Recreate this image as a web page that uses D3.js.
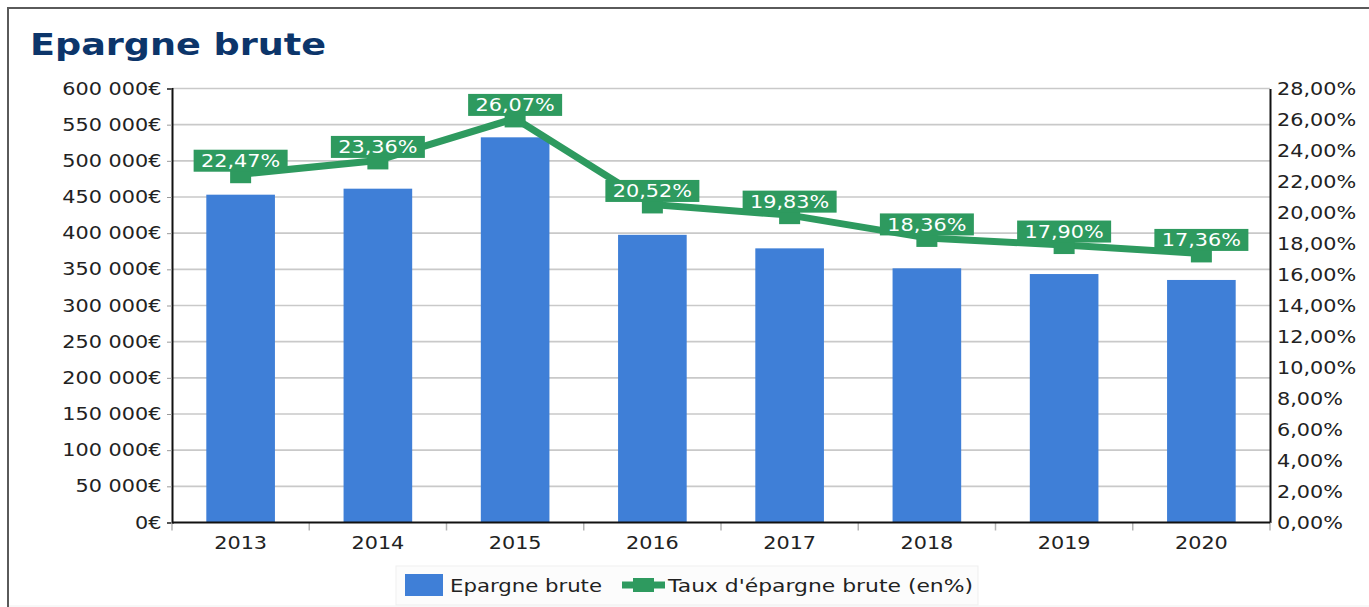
<!DOCTYPE html>
<html>
<head>
<meta charset="utf-8">
<script src="https://cdn.jsdelivr.net/npm/d3@7"></script>
<style>
  body { margin: 0; background: #fff; }
  svg text { font-family: "DejaVu Sans", Verdana, sans-serif; }
</style>
</head>
<body>
<svg id="chart" width="1369" height="607"></svg>
<script>
// Gross savings (€) and gross savings rate (%) per year
const years = ["2013", "2014", "2015", "2016", "2017", "2018", "2019", "2020"];
const epargneBrute = [453200, 461500, 532500, 397700, 379000, 351400, 343500, 335300];
const tauxEpargne = [22.47, 23.36, 26.07, 20.52, 19.83, 18.36, 17.90, 17.36];
const euroTicks = d3.range(0, 600001, 50000);
const pctTicks = d3.range(0, 29, 2);
const legendLabels = ["Epargne brute", "Taux d'épargne brute (en%)"];

const BLUE = "#3f7fd7";
const GREEN = "#2e9a5f";
const SX = 1.18; // horizontal text stretch

const svg = d3.select("#chart");
const plot = { left: 172, right: 1270, top: 88.5, bottom: 522.5 };

const fmtEuro = d => (d === 0 ? "0" : d3.format(",")(d).replace(/,/g, " ")) + "€";
const fmtPct = d => d.toFixed(2).replace(".", ",") + "%";

const x = d3.scaleBand().domain(years).range([plot.left, plot.right])
  .paddingInner(0.5).paddingOuter(0.25);
const xEdges = d3.scaleBand().domain(years).range([plot.left, plot.right]);
const yL = d3.scaleLinear().domain([0, 600000]).range([plot.bottom, plot.top]);
const yR = d3.scaleLinear().domain([0, 28]).range([plot.bottom, plot.top]);

// outer frame (top and left edges)
svg.append("path").attr("d", "M8,612 V8 H1375")
  .attr("fill", "none").attr("stroke", "#5a5a5a").attr("stroke-width", 2);
svg.append("line").attr("x1", 9).attr("x2", 1369).attr("y1", 606).attr("y2", 606)
  .attr("stroke", "#f0f0f0").attr("stroke-width", 1);

// title
svg.append("text")
  .attr("transform", `translate(30,55) scale(${SX},1)`)
  .attr("font-size", 31).attr("font-weight", "bold").attr("fill", "#0c356a")
  .text("Epargne brute");

// gridlines
svg.append("g").selectAll("line").data(euroTicks.slice(1)).join("line")
  .attr("x1", plot.left).attr("x2", plot.right)
  .attr("y1", d => yL(d)).attr("y2", d => yL(d))
  .attr("stroke", "#c9c9c9").attr("stroke-width", 1.6);

// bars
svg.append("g").selectAll("rect").data(years).join("rect")
  .attr("x", d => x(d)).attr("width", x.bandwidth())
  .attr("y", (d, i) => yL(epargneBrute[i]))
  .attr("height", (d, i) => yL(0) - yL(epargneBrute[i]))
  .attr("fill", BLUE);

// left axis
const gL = svg.append("g").attr("transform", `translate(${plot.left},0)`)
  .call(d3.axisLeft(yL).tickValues(euroTicks).tickFormat(fmtEuro).tickSize(5).tickPadding(4));
gL.select(".domain").attr("stroke", "#111").attr("stroke-width", 2);
gL.selectAll(".tick line").attr("stroke", "#999");
gL.selectAll(".tick text").attr("font-size", 17.6).attr("fill", "#222")
  .attr("transform", `scale(${SX},1)`);

// right axis
const gR = svg.append("g").attr("transform", `translate(${plot.right},0)`)
  .call(d3.axisRight(yR).tickValues(pctTicks).tickFormat(fmtPct).tickSize(0).tickPadding(6));
gR.select(".domain").attr("stroke", "#111").attr("stroke-width", 2);
gR.selectAll(".tick text").attr("font-size", 17.6).attr("fill", "#222")
  .attr("transform", `scale(${SX},1)`);

// bottom axis
const gB = svg.append("g").attr("transform", `translate(0,${plot.bottom})`)
  .call(d3.axisBottom(x).tickSize(0).tickPadding(14));
gB.select(".domain").remove();
gB.selectAll(".tick text").attr("font-size", 17.6).attr("fill", "#222")
  .attr("transform", `scale(${SX},1)`);
svg.append("g").selectAll("line").data(years.concat(["end"])).join("line")
  .attr("x1", (d, i) => i < years.length ? xEdges(d) : plot.right)
  .attr("x2", (d, i) => i < years.length ? xEdges(d) : plot.right)
  .attr("y1", plot.bottom).attr("y2", plot.bottom + 8)
  .attr("stroke", "#b5b5b5").attr("stroke-width", 1.5);
svg.append("line").attr("x1", plot.left).attr("x2", plot.right)
  .attr("y1", plot.bottom).attr("y2", plot.bottom)
  .attr("stroke", "#111").attr("stroke-width", 2);

// rate line
const pts = years.map((d, i) => [x(d) + x.bandwidth() / 2, yR(tauxEpargne[i])]);
svg.append("path").datum(pts)
  .attr("d", d3.line())
  .attr("fill", "none").attr("stroke", GREEN).attr("stroke-width", 7)
  .attr("stroke-linejoin", "round");
svg.append("g").selectAll("rect").data(pts).join("rect")
  .attr("x", d => d[0] - 10.5).attr("y", d => d[1] - 9)
  .attr("width", 21).attr("height", 18).attr("fill", GREEN);

// data labels
const lab = svg.append("g").selectAll("g").data(pts).join("g")
  .attr("transform", d => `translate(${d[0]},${d[1] - 2.5})`);
lab.append("rect").attr("x", -47).attr("y", -22).attr("width", 94).attr("height", 22)
  .attr("fill", GREEN);
lab.append("text")
  .attr("transform", `translate(0,-4.5) scale(${SX},1)`)
  .attr("text-anchor", "middle").attr("font-size", 17.6).attr("fill", "#fff")
  .text((d, i) => fmtPct(tauxEpargne[i]));

// legend
const lg = svg.append("g");
lg.append("rect").attr("x", 396).attr("y", 566).attr("width", 582).attr("height", 39)
  .attr("fill", "#fcfcfc").attr("stroke", "#efefef");
lg.append("rect").attr("x", 405).attr("y", 574).attr("width", 38).attr("height", 22).attr("fill", BLUE);
lg.append("text").attr("transform", `translate(450,592) scale(${SX},1)`)
  .attr("font-size", 18).attr("fill", "#222").text(legendLabels[0]);
lg.append("line").attr("x1", 622).attr("x2", 665).attr("y1", 585).attr("y2", 585)
  .attr("stroke", GREEN).attr("stroke-width", 7);
lg.append("rect").attr("x", 633).attr("y", 578).attr("width", 21).attr("height", 14).attr("fill", GREEN);
lg.append("text").attr("transform", `translate(668,592) scale(${SX * 1.03},1)`)
  .attr("font-size", 18).attr("fill", "#222").text(legendLabels[1]);
</script>
</body>
</html>
